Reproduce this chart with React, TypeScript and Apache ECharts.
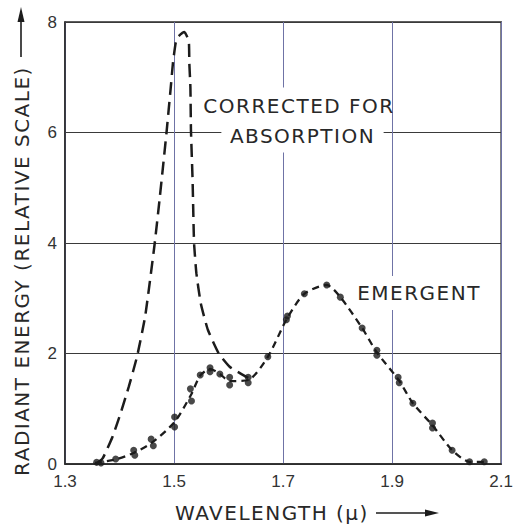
import React, { useEffect, useRef } from 'react';
import * as echarts from 'echarts';

// Axis ticks
const xTicks = [1.3, 1.5, 1.7, 1.9, 2.1];
const yTicks = [0, 2, 4, 6, 8];

// "Corrected for absorption" curve (dashed)
const correctedWavelength = [1.3575, 1.369, 1.387, 1.402, 1.417, 1.432, 1.447, 1.464, 1.474, 1.486, 1.494, 1.498, 1.503, 1.508, 1.519, 1.527, 1.528, 1.530, 1.531, 1.534, 1.536, 1.537, 1.541, 1.549, 1.562, 1.582, 1.602, 1.620, 1.636];
const correctedEnergy = [0, 0.10, 0.49, 0.92, 1.40, 1.94, 2.67, 3.95, 4.84, 5.98, 6.82, 7.26, 7.62, 7.74, 7.82, 7.65, 7.26, 6.82, 6.05, 5.14, 4.24, 3.95, 3.45, 2.91, 2.43, 2.0, 1.76, 1.65, 1.56];

// "Emergent" curve (dashed line drawn through the measurements)
const emergentCurveWavelength = [1.355, 1.392, 1.426, 1.46, 1.501, 1.531, 1.548, 1.566, 1.584, 1.602, 1.636, 1.672, 1.707, 1.739, 1.78, 1.805, 1.845, 1.872, 1.912, 1.938, 1.974, 2.01, 2.042, 2.069];
const emergentCurveEnergy = [0.02, 0.08, 0.2, 0.39, 0.76, 1.25, 1.6, 1.72, 1.63, 1.5, 1.52, 1.94, 2.63, 3.08, 3.24, 3.02, 2.46, 2.02, 1.52, 1.10, 0.70, 0.25, 0.04, 0.04];

// "Emergent" measured dots
const emergentDotWavelength = [1.358, 1.366, 1.393, 1.426, 1.428, 1.458, 1.462, 1.501, 1.501, 1.530, 1.532, 1.548, 1.566, 1.566, 1.584, 1.602, 1.602, 1.636, 1.636, 1.672, 1.706, 1.708, 1.739, 1.780, 1.805, 1.845, 1.872, 1.872, 1.911, 1.913, 1.938, 1.974, 1.974, 2.010, 2.042, 2.069];
const emergentDotEnergy = [0.03, 0.02, 0.09, 0.25, 0.16, 0.45, 0.33, 0.85, 0.67, 1.36, 1.14, 1.61, 1.74, 1.67, 1.63, 1.57, 1.43, 1.57, 1.47, 1.94, 2.61, 2.68, 3.08, 3.24, 3.02, 2.46, 2.06, 1.97, 1.57, 1.47, 1.10, 0.74, 0.65, 0.25, 0.04, 0.04];

const zip = (xs: number[], ys: number[]) => xs.map((x, i) => [x, ys[i]]);

const INK = '#1c1c1c';
const TEXT = '#282828';
const LETTER_FONT = 'DejaVu Sans';

export default function App() {
  const ref = useRef<HTMLDivElement>(null);

  useEffect(() => {
    if (!ref.current) return;
    const chart = echarts.init(ref.current, null, { renderer: 'svg' });
    const xInterval = Math.round((xTicks[1] - xTicks[0]) * 10) / 10;
    const yInterval = yTicks[1] - yTicks[0];
    chart.setOption({
      animation: false,
      backgroundColor: '#ffffff',
      grid: {
        left: 65,
        right: 6,
        top: 22,
        bottom: 65,
        show: true,
        borderColor: '#2a2a2a',
        borderWidth: 1.5,
        backgroundColor: 'transparent',
      },
      xAxis: {
        type: 'value',
        min: xTicks[0],
        max: xTicks[xTicks.length - 1],
        interval: xInterval,
        axisLine: { show: true, onZero: false, lineStyle: { color: '#2a2a2a', width: 1.5 } },
        axisTick: { show: false },
        splitLine: { show: true, lineStyle: { color: '#6f73a6', width: 1 } },
        axisLabel: {
          margin: 9,
          fontSize: 17,
          fontFamily: 'Liberation Sans',
          color: '#333',
          formatter: (v: number) => v.toFixed(1),
        },
      },
      yAxis: {
        type: 'value',
        min: yTicks[0],
        max: yTicks[yTicks.length - 1],
        interval: yInterval,
        axisLine: { show: true, onZero: false, lineStyle: { color: '#2a2a2a', width: 1.5 } },
        axisTick: { show: false },
        splitLine: { show: true, lineStyle: { color: '#3a3a3a', width: 1 } },
        axisLabel: {
          margin: 8,
          fontSize: 17,
          fontFamily: 'Liberation Sans',
          color: '#333',
          formatter: (v: number) => String(v),
        },
      },
      series: [
        {
          name: 'Corrected for absorption',
          type: 'line',
          data: zip(correctedWavelength, correctedEnergy),
          symbol: 'none',
          smooth: 0.15,
          lineStyle: { color: INK, width: 2.5, type: [13, 7] },
          z: 3,
        },
        {
          name: 'Emergent curve',
          type: 'line',
          data: zip(emergentCurveWavelength, emergentCurveEnergy),
          symbol: 'none',
          smooth: 0.25,
          lineStyle: { color: INK, width: 2.3, type: [7, 5] },
          z: 3,
        },
        {
          name: 'Emergent',
          type: 'scatter',
          data: zip(emergentDotWavelength, emergentDotEnergy),
          symbol: 'circle',
          symbolSize: 7,
          itemStyle: { color: INK },
          z: 4,
        },
      ],
      graphic: [
        {
          type: 'text',
          x: 21.5,
          y: 271,
          rotation: Math.PI / 2,
          z: 100,
          style: {
            text: 'RADIANT ENERGY (RELATIVE SCALE)',
            fontSize: 20,
            fontFamily: LETTER_FONT,
            fill: TEXT,
            align: 'center',
            verticalAlign: 'middle',
          },
        },
        {
          type: 'line',
          z: 100,
          shape: { x1: 21, y1: 57, x2: 21, y2: 20 },
          style: { stroke: INK, lineWidth: 1.6 },
        },
        {
          type: 'polygon',
          z: 100,
          shape: { points: [[17.5, 22], [21, 7], [24.5, 22]] },
          style: { fill: INK },
        },
        {
          type: 'text',
          x: 299,
          y: 105.5,
          z: 100,
          style: {
            text: 'CORRECTED FOR',
            fontSize: 20,
            fontFamily: LETTER_FONT,
            fill: TEXT,
            align: 'center',
            verticalAlign: 'middle',
            backgroundColor: '#ffffff',
            padding: [8, 0],
          },
        },
        {
          type: 'text',
          x: 302.5,
          y: 135.5,
          z: 100,
          style: {
            text: 'ABSORPTION',
            fontSize: 20,
            fontFamily: LETTER_FONT,
            fill: TEXT,
            align: 'center',
            verticalAlign: 'middle',
            backgroundColor: '#ffffff',
            padding: [7, 16],
          },
        },
        {
          type: 'text',
          x: 419,
          y: 293,
          z: 100,
          style: {
            text: 'EMERGENT',
            fontSize: 20,
            fontFamily: LETTER_FONT,
            fill: TEXT,
            align: 'center',
            verticalAlign: 'middle',
            backgroundColor: '#ffffff',
            padding: [7, 4],
          },
        },
        {
          type: 'text',
          x: 175,
          y: 513,
          z: 100,
          style: {
            text: 'WAVELENGTH (μ)',
            fontSize: 20,
            fontFamily: LETTER_FONT,
            fill: TEXT,
            align: 'left',
            verticalAlign: 'middle',
          },
        },
        {
          type: 'line',
          z: 100,
          shape: { x1: 376, y1: 513, x2: 428, y2: 513 },
          style: { stroke: INK, lineWidth: 1.6 },
        },
        {
          type: 'polygon',
          z: 100,
          shape: { points: [[425, 509.5], [439, 513], [425, 516.5]] },
          style: { fill: INK },
        },
      ],
    });
    return () => chart.dispose();
  }, []);

  return (
    <>
      <style>{`body{margin:0} .chart-host text[style*="DejaVu"]{letter-spacing:1.5px}`}</style>
      <div ref={ref} className="chart-host" style={{ width: 516, height: 529 }} />
    </>
  );
}
